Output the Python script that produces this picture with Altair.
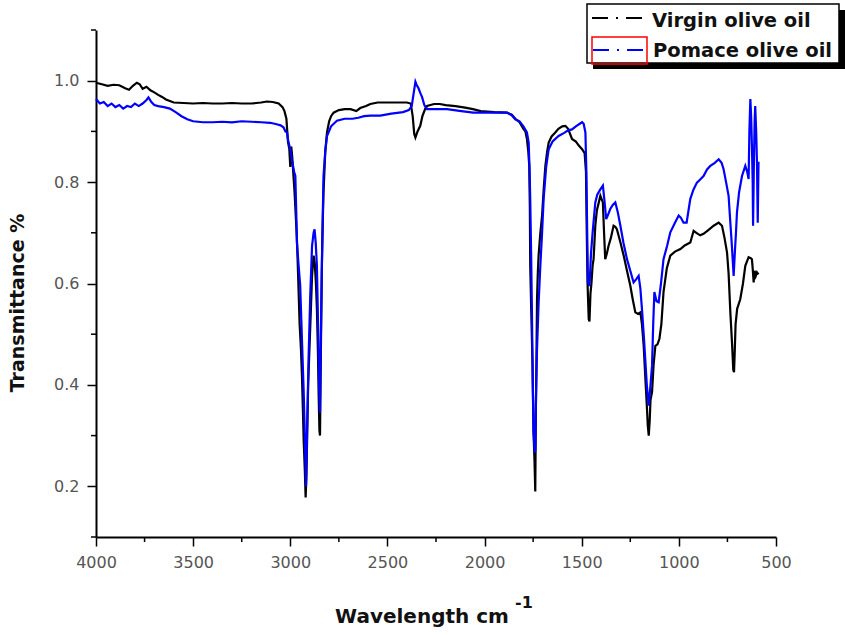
import altair as alt
import pandas as pd

# ---- data ----
virgin_wn = [
    4000, 3970, 3940, 3910, 3880, 3850, 3830, 3810, 3790, 3775,
    3760, 3740, 3720, 3700, 3680, 3660, 3640, 3620, 3600, 3550,
    3500, 3450, 3400, 3350, 3300, 3250, 3200, 3150, 3120, 3090,
    3060, 3040, 3030, 3020, 3012, 3005, 3000, 2995, 2990, 2985,
    2978, 2970, 2966, 2960, 2957, 2952, 2945, 2940, 2935, 2931,
    2925, 2921, 2917, 2913, 2908, 2900, 2893, 2888, 2880, 2874,
    2868, 2863, 2858, 2854, 2850, 2847, 2843, 2838, 2833, 2829,
    2820, 2811, 2800, 2790, 2777, 2750, 2720, 2690, 2660, 2640,
    2610, 2588, 2550, 2500, 2450, 2400, 2380, 2370, 2362, 2356,
    2345, 2331, 2320, 2305, 2296, 2260, 2230, 2200, 2150, 2100,
    2060, 2020, 1950, 1885, 1860, 1842, 1820, 1800, 1790, 1782,
    1775, 1770, 1767, 1765, 1760, 1753, 1748, 1743, 1739, 1736,
    1733, 1730, 1726, 1722, 1713, 1704, 1695, 1687, 1678, 1670,
    1655, 1636, 1620, 1600, 1584, 1570, 1560, 1550, 1530, 1515,
    1498, 1485, 1478, 1474, 1470, 1464, 1460, 1455, 1450, 1444,
    1439, 1430, 1422, 1412, 1404, 1396, 1391, 1385, 1379, 1370,
    1362, 1350, 1336, 1327, 1319, 1300, 1284, 1267, 1250, 1238,
    1224, 1210, 1198, 1190, 1181, 1172, 1164, 1160, 1155, 1150,
    1146, 1138, 1130, 1121, 1110, 1100, 1090, 1079, 1062, 1044,
    1020, 992, 970, 941, 924, 910, 890, 873, 850, 821,
    795, 778, 765, 752, 744, 735, 726, 720, 716, 712,
    708, 700, 684, 670, 658, 641, 630, 624, 620, 615,
    610, 604, 598, 590,
]
virgin_t = [
    0.996, 0.993, 0.990, 0.992, 0.991, 0.985, 0.982, 0.990, 0.996, 0.993,
    0.984, 0.988, 0.981, 0.977, 0.972, 0.968, 0.963, 0.960, 0.957, 0.956,
    0.955, 0.956, 0.955, 0.955, 0.956, 0.955, 0.955, 0.957, 0.959, 0.958,
    0.955, 0.948, 0.940, 0.925, 0.880, 0.865, 0.830, 0.870, 0.850, 0.820,
    0.780, 0.720, 0.690, 0.620, 0.583, 0.520, 0.470, 0.418, 0.350, 0.290,
    0.230, 0.178, 0.220, 0.300, 0.400, 0.485, 0.560, 0.615, 0.655, 0.640,
    0.600, 0.550, 0.470, 0.380, 0.310, 0.300, 0.450, 0.620, 0.720, 0.780,
    0.860, 0.898, 0.920, 0.930, 0.937, 0.942, 0.944, 0.944, 0.940, 0.946,
    0.950, 0.954, 0.957, 0.957, 0.957, 0.957, 0.955, 0.930, 0.895, 0.888,
    0.900, 0.911, 0.930, 0.945, 0.950, 0.954, 0.954, 0.952, 0.950, 0.947,
    0.944, 0.940, 0.938, 0.937, 0.933, 0.925, 0.918, 0.905, 0.900, 0.885,
    0.860, 0.832, 0.750, 0.635, 0.550, 0.438, 0.307, 0.250, 0.190, 0.350,
    0.450, 0.569, 0.620, 0.655, 0.700, 0.734, 0.790, 0.832, 0.860, 0.878,
    0.890, 0.898, 0.905, 0.910, 0.911, 0.905, 0.895, 0.885, 0.880, 0.872,
    0.865, 0.857, 0.820, 0.700, 0.600, 0.530, 0.525, 0.580, 0.600, 0.635,
    0.648, 0.714, 0.744, 0.760, 0.773, 0.765, 0.760, 0.700, 0.648, 0.660,
    0.674, 0.690, 0.714, 0.712, 0.707, 0.680, 0.655, 0.625, 0.596, 0.570,
    0.543, 0.540, 0.543, 0.520, 0.477, 0.410, 0.353, 0.320, 0.300, 0.330,
    0.370, 0.386, 0.440, 0.477, 0.480, 0.491, 0.520, 0.583, 0.630, 0.655,
    0.663, 0.668, 0.675, 0.681, 0.704, 0.700, 0.695, 0.698, 0.705, 0.714,
    0.720, 0.714, 0.690, 0.661, 0.620, 0.543, 0.480, 0.430, 0.425, 0.470,
    0.520, 0.550, 0.569, 0.600, 0.635, 0.652, 0.650, 0.648, 0.630, 0.602,
    0.625, 0.615, 0.622, 0.618,
]

pomace_wn = [
    4000, 3980, 3960, 3940, 3920, 3900, 3880, 3860, 3840, 3820,
    3800, 3780, 3760, 3740, 3730, 3715, 3700, 3680, 3650, 3620,
    3590, 3560, 3530, 3500, 3450, 3400, 3350, 3300, 3250, 3200,
    3150, 3103, 3070, 3050, 3035, 3025, 3017, 3010, 3000, 2990,
    2980, 2974, 2968, 2966, 2958, 2949, 2940, 2931, 2925, 2919,
    2913, 2906, 2897, 2888, 2880, 2875, 2869, 2863, 2857, 2851,
    2847, 2843, 2837, 2829, 2820, 2811, 2790, 2760, 2720, 2680,
    2650, 2620, 2588, 2537, 2480, 2420, 2390, 2375, 2365, 2356,
    2350, 2340, 2330, 2322, 2310, 2296, 2250, 2193, 2120, 2058,
    1950, 1885, 1860, 1842, 1820, 1800, 1782, 1773, 1768, 1765,
    1760, 1756, 1752, 1748, 1742, 1739, 1735, 1730, 1722, 1713,
    1704, 1696, 1683, 1670, 1650, 1619, 1590, 1570, 1550, 1530,
    1510, 1498, 1490, 1481, 1476, 1473, 1468, 1460, 1452, 1444,
    1430, 1420, 1405, 1391, 1382, 1374, 1365, 1353, 1340, 1327,
    1314, 1301, 1285, 1267, 1250, 1233, 1220, 1207, 1198, 1190,
    1181, 1173, 1165, 1155, 1148, 1138, 1132, 1126, 1115, 1104,
    1092, 1079, 1060, 1044, 1020, 1001, 990, 976, 960, 950,
    941, 925, 907, 890, 873, 855, 838, 815, 795, 780,
    770, 757, 744, 735, 727, 718, 712, 706, 701, 690,
    675, 658, 648, 641, 637, 632, 628, 624, 620, 618,
    614, 610, 607, 602, 598, 594, 590,
]
pomace_t = [
    0.964, 0.955, 0.958, 0.950, 0.955, 0.948, 0.952, 0.945, 0.950, 0.948,
    0.955, 0.950, 0.955, 0.962, 0.967, 0.958, 0.952, 0.950, 0.948, 0.945,
    0.938, 0.930, 0.924, 0.920, 0.918, 0.918, 0.919, 0.918, 0.920, 0.919,
    0.918, 0.917, 0.914, 0.912, 0.908, 0.900, 0.898, 0.880, 0.865, 0.840,
    0.820, 0.812, 0.720, 0.681, 0.640, 0.596, 0.490, 0.386, 0.300, 0.200,
    0.320, 0.451, 0.580, 0.674, 0.700, 0.707, 0.680, 0.635, 0.520, 0.386,
    0.345, 0.480, 0.648, 0.812, 0.860, 0.891, 0.910, 0.921, 0.925, 0.925,
    0.927, 0.930, 0.931, 0.931, 0.935, 0.938, 0.942, 0.950, 0.975, 0.998,
    0.992, 0.985, 0.975, 0.968, 0.952, 0.944, 0.944, 0.944, 0.940, 0.937,
    0.937, 0.937, 0.932, 0.924, 0.920, 0.910, 0.898, 0.878, 0.820, 0.767,
    0.650, 0.537, 0.400, 0.307, 0.267, 0.270, 0.380, 0.471, 0.560, 0.635,
    0.700, 0.767, 0.830, 0.865, 0.880, 0.891, 0.897, 0.902, 0.904, 0.910,
    0.915, 0.918, 0.915, 0.898, 0.820, 0.734, 0.602, 0.595, 0.660, 0.700,
    0.760, 0.775, 0.785, 0.793, 0.760, 0.727, 0.735, 0.747, 0.755, 0.760,
    0.740, 0.714, 0.680, 0.648, 0.625, 0.602, 0.608, 0.615, 0.590, 0.550,
    0.500, 0.451, 0.400, 0.359, 0.390, 0.438, 0.520, 0.583, 0.565, 0.563,
    0.600, 0.648, 0.675, 0.701, 0.720, 0.734, 0.730, 0.720, 0.720, 0.745,
    0.767, 0.785, 0.799, 0.805, 0.812, 0.825, 0.832, 0.838, 0.845, 0.838,
    0.826, 0.800, 0.773, 0.720, 0.674, 0.615, 0.660, 0.700, 0.740, 0.780,
    0.812, 0.832, 0.820, 0.806, 0.900, 0.964, 0.930, 0.872, 0.800, 0.714,
    0.830, 0.920, 0.950, 0.900, 0.839, 0.720, 0.840,
]
assert len(virgin_wn) == len(virgin_t)
assert len(pomace_wn) == len(pomace_t)

series_names = ["Virgin olive oil", "Pomace olive oil"]
series_colors = ["#000000", "#0000ff"]

x_major = [4000, 3500, 3000, 2500, 2000, 1500, 1000, 500]
x_minor = [3750, 3250, 2750, 2250, 1750, 1250, 750]
y_major = [0.2, 0.4, 0.6, 0.8, 1.0]
y_minor = [0.1, 0.3, 0.5, 0.7, 0.9, 1.1]

x_title = "Wavelength cm"
x_title_sup = "-1"
y_title = "Transmittance %"

W, H = 680, 507
FONT = "DejaVu Sans"
LABEL_COLOR = "#555555"

virgin_df = pd.DataFrame({"wn": virgin_wn, "t": virgin_t})
pomace_df = pd.DataFrame({"wn": pomace_wn, "t": pomace_t})

xscale = alt.Scale(domain=[500, 4000], reverse=True, nice=False, zero=False)
yscale = alt.Scale(domain=[0.1, 1.1], nice=False, zero=False)

xaxis = alt.Axis(values=x_major, format="d", title=None, grid=False,
                 domainColor="black", domainWidth=2, tickColor="black",
                 tickWidth=1.5, tickSize=9, labelFont=FONT, labelFontSize=16,
                 labelColor=LABEL_COLOR, labelPadding=8, labelFlush=False)
yaxis = alt.Axis(values=y_major, format=".1f", title=None, grid=False,
                 domainColor="black", domainWidth=2, tickColor="black",
                 tickWidth=1.5, tickSize=9, labelFont=FONT, labelFontSize=16,
                 labelColor=LABEL_COLOR, labelPadding=8, labelFlush=False)

virgin_line = alt.Chart(virgin_df).mark_line(
    color=series_colors[0], strokeWidth=2.2, strokeJoin="miter"
).encode(
    x=alt.X("wn:Q", scale=xscale, axis=xaxis),
    y=alt.Y("t:Q", scale=yscale, axis=yaxis),
)
pomace_line = alt.Chart(pomace_df).mark_line(
    color=series_colors[1], strokeWidth=2.2, strokeJoin="miter"
).encode(
    x=alt.X("wn:Q", scale=xscale),
    y=alt.Y("t:Q", scale=yscale),
)

# minor ticks (placed through the scales)
xminor = alt.Chart(pd.DataFrame({"wn": x_minor})).mark_rule(
    color="black", strokeWidth=1.5
).encode(x=alt.X("wn:Q", scale=xscale), y=alt.value(H), y2=alt.value(H + 5))
yminor = alt.Chart(pd.DataFrame({"t": y_minor})).mark_rule(
    color="black", strokeWidth=1.5
).encode(y=alt.Y("t:Q", scale=yscale), x=alt.value(0), x2=alt.value(-5))

one = pd.DataFrame({"k": [0]})

# axis titles
xt = alt.Chart(pd.DataFrame({"s": [x_title]})).mark_text(
    font=FONT, fontSize=20, fontWeight="bold", color="#111111",
    align="center", baseline="alphabetic"
).encode(x=alt.value(326), y=alt.value(593), text="s:N")
xt_sup = alt.Chart(pd.DataFrame({"s": [x_title_sup]})).mark_text(
    font=FONT, fontSize=16, fontWeight="bold", color="#111111",
    align="left", baseline="alphabetic"
).encode(x=alt.value(419), y=alt.value(578), text="s:N")
yt = alt.Chart(pd.DataFrame({"s": [y_title]})).mark_text(
    font=FONT, fontSize=19, fontWeight="bold", color="#111111",
    align="center", baseline="middle", angle=270
).encode(x=alt.value(-78), y=alt.value(273), text="s:N")

# legend box
shadow = alt.Chart(one).mark_rect(color="black").encode(
    x=alt.value(497), x2=alt.value(749), y=alt.value(-20), y2=alt.value(39))
box = alt.Chart(one).mark_rect(fill="white", stroke="black", strokeWidth=1.5).encode(
    x=alt.value(491), x2=alt.value(743), y=alt.value(-26), y2=alt.value(33))
leg_line1 = alt.Chart(one).mark_rule(color=series_colors[0], strokeWidth=2,
                                     strokeDash=[16, 8, 2, 8]).encode(
    x=alt.value(496), x2=alt.value(549), y=alt.value(-12))
leg_line2 = alt.Chart(one).mark_rule(color=series_colors[1], strokeWidth=2,
                                     strokeDash=[16, 8, 2, 8]).encode(
    x=alt.value(497), x2=alt.value(550), y=alt.value(20))
red_box = alt.Chart(one).mark_rect(fill=None, fillOpacity=0, stroke="red",
                                   strokeWidth=1.5).encode(
    x=alt.value(496), x2=alt.value(551), y=alt.value(7), y2=alt.value(34))
leg_text1 = alt.Chart(pd.DataFrame({"s": [series_names[0]]})).mark_text(
    font=FONT, fontSize=19.5, fontWeight="bold", color="#111111",
    align="left", baseline="alphabetic"
).encode(x=alt.value(556), y=alt.value(-3), text="s:N")
leg_text2 = alt.Chart(pd.DataFrame({"s": [series_names[1]]})).mark_text(
    font=FONT, fontSize=19.5, fontWeight="bold", color="#111111",
    align="left", baseline="alphabetic"
).encode(x=alt.value(557), y=alt.value(27), text="s:N")

chart = alt.layer(
    virgin_line, pomace_line, xminor, yminor, xt, xt_sup, yt,
    shadow, box, leg_line1, leg_line2, red_box, leg_text1, leg_text2
).properties(
    width=W, height=H,
    autosize=alt.AutoSizeParams(type="none"),
    padding={"left": 96, "top": 30, "right": 69, "bottom": 98},
    background="white",
).configure_view(stroke=None)

chart.save("out.html", embed_options={"renderer": "svg", "actions": False})
